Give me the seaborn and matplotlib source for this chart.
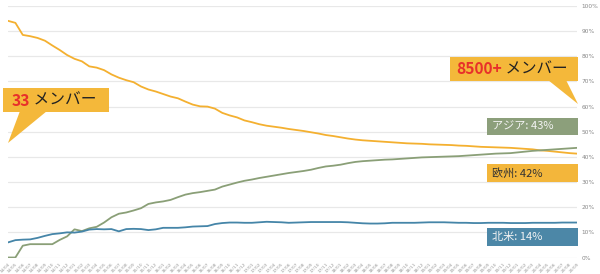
import matplotlib
matplotlib.use("Agg")
import matplotlib.pyplot as plt
import matplotlib.patches as mpatches
import seaborn as sns
import pandas as pd
import numpy as np

# ---------------- data ----------------
years = [14, 15, 16, 17, 18, 19, 20]
months = [f"{y}/{m:02d}" for y in years for m in range(1, 13)][3:81]

europe = [94.1, 93.3, 88.5, 88.0, 87.3, 86.2, 84.3, 82.5, 80.5, 79.0,
          78.0, 76.0, 75.5, 74.5, 72.8, 71.5, 70.5, 69.7, 68.0, 66.8,
          66.0, 65.0, 64.0, 63.3, 62.0, 60.8, 60.1, 60.0, 59.2, 57.5,
          56.5, 55.7, 54.5, 53.8, 53.0, 52.4, 52.0, 51.6, 51.1, 50.7,
          50.3, 49.8, 49.3, 48.7, 48.3, 47.8, 47.3, 46.9, 46.6, 46.4,
          46.2, 46.0, 45.8, 45.6, 45.4, 45.3, 45.2, 45.0, 44.9, 44.8,
          44.7, 44.5, 44.4, 44.2, 44.0, 43.9, 43.8, 43.7, 43.6, 43.4,
          43.2, 43.0, 42.6, 42.4, 42.1, 41.8, 41.5, 41.3]

asia = [0.0, 0.0, 4.7, 5.3, 5.3, 5.3, 5.3, 7.0, 8.4, 11.2,
        10.5, 11.6, 12.2, 13.9, 16.0, 17.4, 17.9, 18.7, 19.6, 21.3,
        21.9, 22.3, 22.9, 24.0, 25.0, 25.6, 26.0, 26.5, 27.0, 28.2,
        29.0, 29.8, 30.5, 31.0, 31.6, 32.1, 32.6, 33.1, 33.6, 34.0,
        34.4, 34.9, 35.6, 36.2, 36.5, 36.9, 37.5, 38.0, 38.3, 38.5,
        38.7, 38.9, 39.0, 39.2, 39.4, 39.6, 39.8, 39.9, 40.0, 40.1,
        40.2, 40.3, 40.5, 40.7, 40.9, 41.1, 41.3, 41.4, 41.5, 41.8,
        42.1, 42.4, 42.6, 42.8, 43.0, 43.2, 43.4, 43.6]

north_america = [6.0, 6.9, 7.1, 7.2, 7.8, 8.6, 9.3, 9.6, 10.0, 9.9,
                 10.3, 11.1, 11.3, 11.2, 11.3, 10.4, 11.3, 11.4, 11.3, 10.9,
                 11.2, 11.8, 11.8, 11.8, 12.0, 12.3, 12.4, 12.5, 13.3, 13.7,
                 13.9, 13.9, 13.8, 13.8, 14.0, 14.2, 14.1, 14.0, 13.8, 13.9,
                 14.0, 14.1, 14.1, 14.1, 14.1, 14.1, 14.0, 13.8, 13.6, 13.5,
                 13.5, 13.6, 13.8, 13.8, 13.8, 13.8, 13.9, 14.0, 14.0, 14.0,
                 13.9, 13.8, 13.8, 13.7, 13.7, 13.8, 13.8, 13.8, 13.7, 13.7,
                 13.7, 13.8, 13.8, 13.8, 13.8, 13.9, 13.9, 13.9]

series_names = ["欧州", "アジア", "北米"]
end_labels = ["欧州: 42%", "アジア: 43%", "北米: 14%"]
callout_left = ("33", " メンバー")
callout_right = ("8500+", " メンバー")
y_ticks = [0, 10, 20, 30, 40, 50, 60, 70, 80, 90, 100]
y_tick_labels = [f"{v}%" for v in y_ticks]

# ---------------- style ----------------
sns.set_theme(style="white")
plt.rcParams['font.family'] = ['Noto Sans CJK JP', 'DejaVu Sans']

c_eu = "#F4B030"
c_as = "#8A9F77"
c_na = "#4585A8"
palette = {"欧州": c_eu, "アジア": c_as, "北米": c_na}

W, H = 600, 274
fig = plt.figure(figsize=(W / 100, H / 100), dpi=100)
ax = fig.add_axes([8 / W, 16.5 / H, (577 - 8) / W, (257.5 - 6) / H])

idx = np.arange(len(months))
df = pd.concat([
    pd.DataFrame({"i": idx, "v": europe, "s": "欧州"}),
    pd.DataFrame({"i": idx, "v": asia, "s": "アジア"}),
    pd.DataFrame({"i": idx, "v": north_america, "s": "北米"}),
])
sns.lineplot(data=df, x="i", y="v", hue="s", palette=palette, ax=ax,
             linewidth=1.3, legend=False, zorder=3)

ax.set_xlim(0, len(months) - 1)
ax.set_ylim(0, 100)
ax.set_xlabel("")
ax.set_ylabel("")
for sp in ax.spines.values():
    sp.set_visible(False)

ax.yaxis.tick_right()
ax.set_yticks(y_ticks)
ax.set_yticklabels(y_tick_labels, fontsize=4.2, color="#888888",
                   family=['DejaVu Sans'])
ax.tick_params(axis="y", length=0, pad=3.5)
ax.grid(axis="y", color="#e8e8e8", linewidth=0.9, zorder=0)
ax.grid(axis="x", visible=False)

ax.set_xticks(idx)
ax.set_xticklabels(months, rotation=45, ha="right", rotation_mode="anchor",
                   fontsize=3.2, color="#999999", family=['DejaVu Sans'])
ax.tick_params(axis="x", length=2, width=0.4, color="#dddddd", pad=1)

# ---------------- annotations (figure-pixel helpers) ----------------
def fx(x):
    return x / W

def fy(y):
    return 1 - y / H

def box(x0, y0, x1, y1, color):
    fig.add_artist(mpatches.Rectangle((fx(x0), fy(y1)), fx(x1) - fx(x0),
                                      fy(y0) - fy(y1), transform=fig.transFigure,
                                      facecolor=color, edgecolor="none", zorder=5))

def tri(pts, color):
    fig.add_artist(mpatches.Polygon([(fx(a), fy(b)) for a, b in pts], closed=True,
                                    transform=fig.transFigure, facecolor=color,
                                    edgecolor="none", zorder=5))

renderer = fig.canvas.get_renderer()

def two_part(x, y, a, b, size):
    t1 = fig.text(fx(x), fy(y), a, color="#E8302A", fontsize=size,
                  fontweight="bold", va="center", ha="left", zorder=6)
    bb = t1.get_window_extent(renderer=renderer)
    fig.text(bb.x1 / W, fy(y), b, color="#222222", fontsize=size,
             va="center", ha="left", zorder=6)

c_call = "#F4B83A"
# left callout
box(3, 88, 109, 112, c_call)
tri([(20, 111), (47, 111), (8, 143)], c_call)
two_part(12, 100.5, callout_left[0], callout_left[1], 11.3)
# right callout
box(450, 57, 578, 81, c_call)
tri([(548, 80), (566, 80), (578, 104)], c_call)
two_part(456, 69.5, callout_right[0], callout_right[1], 11.2)

# end labels
box(487, 118, 578, 135, "#8C9F7B")
fig.text(fx(492), fy(126.8), end_labels[1], color="#F4F4F4", fontsize=8,
         va="center", ha="left", zorder=6)
box(487, 164, 578, 182, "#F3B63B")
fig.text(fx(492), fy(173), end_labels[0], color="#333333", fontsize=8,
         va="center", ha="left", zorder=6)
box(487, 228, 578, 246, "#4C87A7")
fig.text(fx(492), fy(237), end_labels[2], color="#F4F4F4", fontsize=8,
         va="center", ha="left", zorder=6)

fig.savefig("out.png", dpi=100)
